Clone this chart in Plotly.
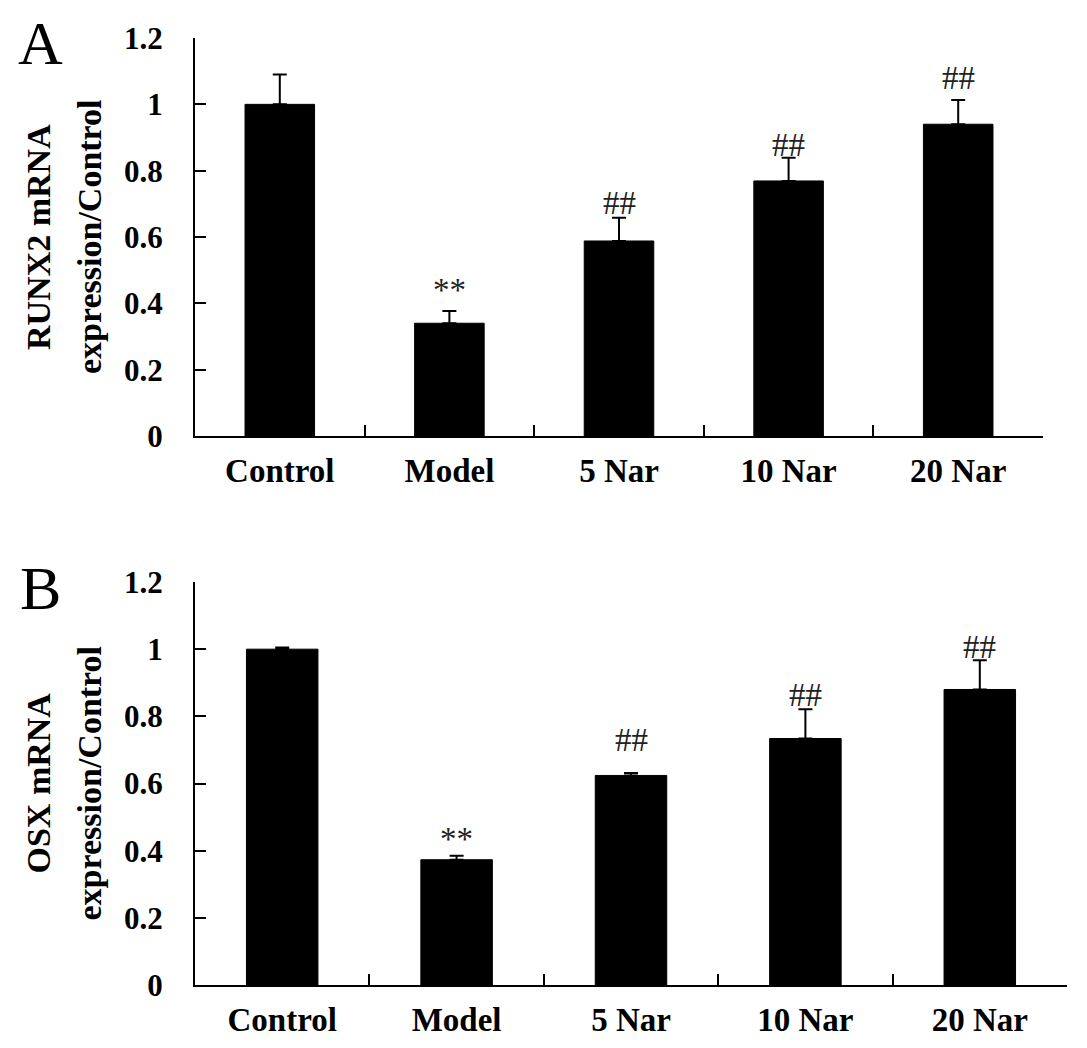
import plotly.graph_objects as go

groups = ['Control', 'Model', '5 Nar', '10 Nar', '20 Nar']

runx2_mean = [1.00, 0.34, 0.588, 0.769, 0.94]
runx2_err = [0.09, 0.037, 0.07, 0.07, 0.073]
runx2_marks = ['', '**', '##', '##', '##']
runx2_mark_y = [None, 0.404, 0.666, 0.841, 1.043]

osx_mean = [1.00, 0.373, 0.624, 0.734, 0.88]
osx_err = [0.005, 0.012, 0.007, 0.087, 0.087]
osx_marks = ['', '**', '##', '##', '##']
osx_mark_y = [None, 0.40, 0.693, 0.827, 0.970]

y_ticks = [0, 0.2, 0.4, 0.6, 0.8, 1, 1.2]
y_ticktext = ['0', '0.2', '0.4', '0.6', '0.8', '1', '1.2']

W, H = 1087, 1048
OFF = 8  # page body margin
FONT = 'Liberation Serif'


def px_x(x):
    return (x - OFF) / W


def px_y(y):
    return min(1, 1 - (y - OFF) / H)


fig = go.Figure()

for i, (mean, err) in enumerate([(runx2_mean, runx2_err), (osx_mean, osx_err)]):
    n = '' if i == 0 else '2'
    fig.add_trace(go.Bar(
        x=groups, y=mean,
        marker=dict(color='black', line=dict(color='black', width=1)),
        width=0.41,
        error_y=dict(type='data', array=err, arrayminus=[0] * len(err),
                     symmetric=False, color='black', thickness=2, width=7),
        xaxis='x' + n, yaxis='y' + n,
        showlegend=False,
    ))

axis_common = dict(
    showline=True, linecolor='black', linewidth=2,
    ticks='inside', tickcolor='black', tickwidth=2, ticklen=11,
    showgrid=False, zeroline=False, automargin=False,
    tickfont=dict(family=FONT, size=31, color='black', weight='bold'),
)

fig.update_layout(
    width=W, height=H,
    margin=dict(l=0, r=0, t=0, b=0, pad=0, autoexpand=False),
    paper_bgcolor='white', plot_bgcolor='white',
    xaxis=dict(domain=[px_x(195), px_x(1043)], anchor='y', tickson='boundaries',
               range=[-0.5, 4.5], ticklabelstandoff=4, **axis_common),
    yaxis=dict(domain=[px_y(436), px_y(38)], anchor='x', range=[0, 1.2],
               tickvals=y_ticks, ticktext=y_ticktext, ticklabelstandoff=24,
               **axis_common),
    xaxis2=dict(domain=[px_x(195), px_x(1067)], anchor='y2', tickson='boundaries',
                range=[-0.5, 4.5], ticklabelstandoff=4, **axis_common),
    yaxis2=dict(domain=[px_y(985), px_y(582)], anchor='x2', range=[0, 1.2],
                tickvals=y_ticks, ticktext=y_ticktext, ticklabelstandoff=24,
                **axis_common),
)
fig.update_xaxes(tickfont_size=33)

annotations = []

# significance marks
for n, marks, mark_y in [('', runx2_marks, runx2_mark_y), ('2', osx_marks, osx_mark_y)]:
    for g, m, yv in zip(groups, marks, mark_y):
        if not m:
            continue
        annotations.append(dict(
            x=g, y=yv, xref='x' + n, yref='y' + n, text=m, showarrow=False,
            yanchor='bottom', yshift=-8,
            font=dict(family=FONT, size=33, color='#222'),
        ))

# y titles (two lines each)
for y0, y1, line1 in [(38, 436, 'RUNX2 mRNA'), (582, 985, 'OSX mRNA')]:
    yc = px_y((y0 + y1) / 2)
    annotations.append(dict(x=px_x(38), y=yc, xref='paper', yref='paper', text=line1,
                            textangle=-90, showarrow=False, xanchor='center', yanchor='middle',
                            font=dict(family=FONT, size=34, color='black', weight='bold')))
    annotations.append(dict(x=px_x(89), y=yc, xref='paper', yref='paper', text='expression/Control',
                            textangle=-90, showarrow=False, xanchor='center', yanchor='middle',
                            font=dict(family=FONT, size=34, color='black', weight='bold')))

# panel letters
for letter, ytop in [('A', 8), ('B', 553)]:
    annotations.append(dict(x=px_x(40), y=px_y(ytop), xref='paper', yref='paper', text=letter,
                            showarrow=False, xanchor='center', yanchor='top', borderpad=0,
                            font=dict(family=FONT, size=62, color='black')))

fig.update_layout(annotations=annotations)

fig.write_html('out.html')
